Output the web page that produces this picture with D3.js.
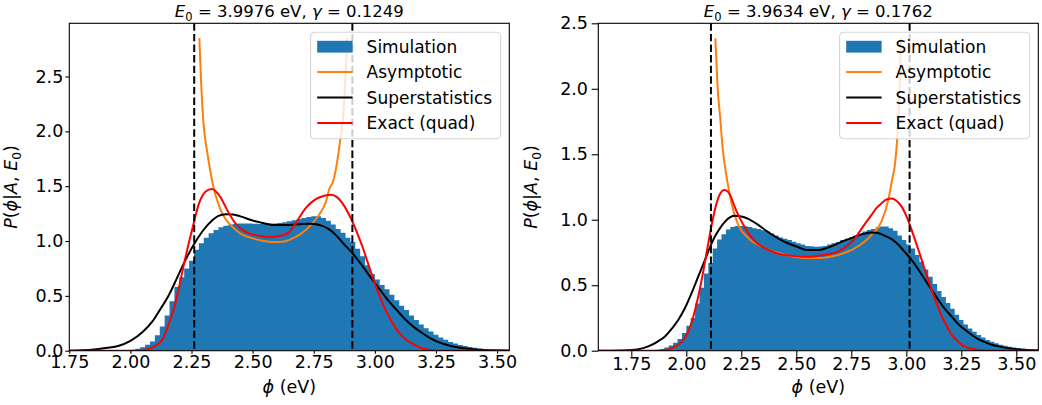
<!DOCTYPE html>
<html>
<head>
<meta charset="utf-8">
<script src="https://cdn.jsdelivr.net/npm/d3@7"></script>
<style>
body { margin: 0; background: #fff; }
svg text { font-family: "DejaVu Sans", sans-serif; fill: #000; }
</style>
</head>
<body>
<svg id="chart" width="1042" height="405"></svg>
<script>
// titles
var e0Values = ['3.9976', '3.9634'];
var gammaValues = ['0.1249', '0.1762'];

var xTicks = [1.75, 2.00, 2.25, 2.50, 2.75, 3.00, 3.25, 3.50];
var yTicks = [0, 0.5, 1.0, 1.5, 2.0, 2.5];
var legendLabels = ['Simulation', 'Asymptotic', 'Superstatistics', 'Exact (quad)'];

// histogram (density), bins of 0.02
var binWidth = 0.02;
var leftHistStart = 1.96;
var leftHist = [
    0.0, 0.003, 0.008, 0.018, 0.032, 0.055, 0.085, 0.14, 0.22, 0.32,
    0.45, 0.58, 0.67, 0.75, 0.82, 0.92, 0.98, 1.03, 1.07, 1.10,
    1.125, 1.14, 1.15, 1.155, 1.16, 1.16, 1.16, 1.158, 1.155, 1.155,
    1.16, 1.16, 1.165, 1.17, 1.18, 1.19, 1.20, 1.21, 1.22, 1.225,
    1.225, 1.21, 1.185, 1.15, 1.11, 1.075, 1.03, 0.99, 0.93, 0.86,
    0.78, 0.70, 0.65, 0.60, 0.56, 0.51, 0.46, 0.41, 0.37, 0.32,
    0.28, 0.24, 0.205, 0.175, 0.145, 0.12, 0.10, 0.08, 0.065, 0.052,
    0.042, 0.033, 0.027, 0.021, 0.016, 0.012, 0.008, 0.005, 0.002
];
var rightHistStart = 1.86;
var rightHist = [
    0.003, 0.012, 0.025, 0.040, 0.060, 0.09, 0.135, 0.19, 0.25, 0.36,
    0.48, 0.59, 0.67, 0.78, 0.85, 0.89, 0.925, 0.945, 0.952, 0.952,
    0.95, 0.945, 0.935, 0.93, 0.92, 0.91, 0.895, 0.88, 0.865, 0.855,
    0.845, 0.832, 0.82, 0.81, 0.80, 0.797, 0.793, 0.795, 0.80, 0.81,
    0.82, 0.83, 0.845, 0.855, 0.867, 0.88, 0.895, 0.91, 0.922, 0.93,
    0.94, 0.948, 0.948, 0.935, 0.915, 0.88, 0.845, 0.81, 0.78, 0.73,
    0.68, 0.62, 0.565, 0.51, 0.455, 0.41, 0.365, 0.32, 0.275, 0.235,
    0.20, 0.17, 0.145, 0.12, 0.10, 0.082, 0.068, 0.056, 0.046, 0.038,
    0.031, 0.025, 0.02, 0.016, 0.012, 0.009, 0.006
];

// curves [phi, P]
var leftAsymptotic = [
    [2.282, 2.85], [2.290, 2.41], [2.298, 2.10], [2.315, 1.80], [2.326, 1.65],
    [2.339, 1.50], [2.355, 1.37], [2.376, 1.25], [2.40, 1.17], [2.431, 1.10],
    [2.46, 1.055], [2.50, 1.025], [2.54, 1.003], [2.58, 0.99], [2.62, 0.993],
    [2.66, 1.02], [2.70, 1.07], [2.74, 1.15], [2.772, 1.24], [2.80, 1.36],
    [2.813, 1.47], [2.830, 1.55], [2.841, 1.66], [2.851, 1.80], [2.860, 1.95],
    [2.869, 2.10], [2.878, 2.41], [2.887, 2.85]
];
var leftSuper = [
    [1.75, 0], [1.80, 0.003], [1.85, 0.01], [1.90, 0.025], [1.953, 0.045],
    [2.00, 0.09], [2.05, 0.17], [2.09, 0.267], [2.12, 0.37], [2.158, 0.51],
    [2.19, 0.66], [2.226, 0.83], [2.26, 0.97], [2.294, 1.087], [2.335, 1.19],
    [2.36, 1.23], [2.39, 1.245], [2.42, 1.242], [2.45, 1.225], [2.50, 1.187],
    [2.55, 1.16], [2.595, 1.145], [2.65, 1.146], [2.70, 1.155], [2.731, 1.157],
    [2.76, 1.152], [2.785, 1.138], [2.81, 1.11], [2.84, 1.056], [2.87, 0.98],
    [2.908, 0.89], [2.95, 0.77], [2.99, 0.647], [3.02, 0.56], [3.058, 0.449],
    [3.09, 0.37], [3.126, 0.282], [3.16, 0.215], [3.194, 0.161], [3.23, 0.11],
    [3.263, 0.076], [3.30, 0.05], [3.331, 0.034], [3.37, 0.02], [3.40, 0.014],
    [3.45, 0.007], [3.50, 0.003], [3.55, 0.001]
];
var leftExact = [
    [1.75, 0], [2.00, 0], [2.05, 0.005], [2.09, 0.03], [2.13, 0.10],
    [2.158, 0.25], [2.18, 0.40], [2.199, 0.58], [2.226, 0.86], [2.253, 1.11],
    [2.281, 1.345], [2.308, 1.451], [2.333, 1.475], [2.362, 1.421], [2.403, 1.254],
    [2.43, 1.16], [2.458, 1.102], [2.49, 1.065], [2.526, 1.047], [2.567, 1.035],
    [2.61, 1.045], [2.649, 1.08], [2.676, 1.163], [2.717, 1.30], [2.772, 1.397],
    [2.82, 1.421], [2.845, 1.40], [2.867, 1.345], [2.89, 1.26], [2.908, 1.178],
    [2.93, 1.06], [2.949, 0.95], [2.97, 0.81], [2.99, 0.677], [3.031, 0.434],
    [3.072, 0.252], [3.112, 0.13], [3.153, 0.064], [3.194, 0.02], [3.24, 0.005],
    [3.30, 0.001], [3.55, 0]
];

var rightAsymptotic = [
    [2.132, 2.385], [2.142, 2.02], [2.155, 1.76], [2.165, 1.55], [2.18, 1.36],
    [2.19, 1.26], [2.206, 1.12], [2.236, 0.96], [2.282, 0.86], [2.358, 0.783],
    [2.449, 0.732], [2.54, 0.707], [2.60, 0.707], [2.691, 0.732], [2.767, 0.783],
    [2.842, 0.885], [2.888, 0.99], [2.918, 1.15], [2.935, 1.30], [2.949, 1.43],
    [2.958, 1.60], [2.965, 1.80], [2.970, 2.02], [2.976, 2.385]
];
var rightSuper = [
    [1.60, 0], [1.70, 0.002], [1.751, 0.005], [1.80, 0.018], [1.827, 0.033],
    [1.87, 0.07], [1.903, 0.109], [1.935, 0.17], [1.964, 0.236], [1.995, 0.33],
    [2.024, 0.44], [2.055, 0.57], [2.085, 0.694], [2.11, 0.80], [2.13, 0.872],
    [2.155, 0.94], [2.176, 0.986], [2.20, 1.02], [2.221, 1.03], [2.245, 1.027],
    [2.267, 1.017], [2.30, 0.99], [2.327, 0.961], [2.36, 0.92], [2.403, 0.872],
    [2.44, 0.837], [2.479, 0.809], [2.51, 0.79], [2.549, 0.768], [2.60, 0.768],
    [2.64, 0.785], [2.676, 0.809], [2.71, 0.835], [2.751, 0.86], [2.80, 0.89],
    [2.842, 0.903], [2.87, 0.898], [2.903, 0.877], [2.935, 0.85], [2.964, 0.809],
    [2.99, 0.76], [3.024, 0.694], [3.055, 0.62], [3.085, 0.542], [3.115, 0.465],
    [3.145, 0.389], [3.175, 0.32], [3.206, 0.262], [3.235, 0.205], [3.267, 0.16],
    [3.30, 0.118], [3.327, 0.089], [3.36, 0.064], [3.388, 0.046], [3.42, 0.033],
    [3.449, 0.023], [3.50, 0.012], [3.55, 0.006], [3.60, 0.003]
];
var rightExact = [
    [1.60, 0], [1.85, 0], [1.903, 0.005], [1.935, 0.02], [1.964, 0.046],
    [1.99, 0.09], [2.009, 0.147], [2.025, 0.22], [2.04, 0.313], [2.055, 0.42],
    [2.07, 0.542], [2.085, 0.68], [2.10, 0.822], [2.123, 1.025], [2.145, 1.165],
    [2.16, 1.215], [2.173, 1.228], [2.185, 1.22], [2.199, 1.19], [2.215, 1.12],
    [2.236, 1.037], [2.26, 0.96], [2.282, 0.898], [2.31, 0.84], [2.342, 0.796],
    [2.38, 0.765], [2.418, 0.74], [2.46, 0.728], [2.509, 0.72], [2.56, 0.718],
    [2.60, 0.725], [2.65, 0.738], [2.691, 0.758], [2.73, 0.80], [2.767, 0.86],
    [2.80, 0.94], [2.842, 1.037], [2.865, 1.09], [2.888, 1.127], [2.91, 1.155],
    [2.933, 1.162], [2.955, 1.145], [2.979, 1.10], [3.00, 1.03], [3.024, 0.923],
    [3.047, 0.81], [3.07, 0.694], [3.092, 0.58], [3.115, 0.465], [3.138, 0.36],
    [3.161, 0.262], [3.185, 0.185], [3.206, 0.122], [3.23, 0.078], [3.251, 0.046],
    [3.275, 0.025], [3.297, 0.015], [3.33, 0.006], [3.40, 0.001], [3.60, 0]
];

// turning points (dashed lines)
var leftBounds = [2.261, 2.908];
var rightBounds = [2.112, 3.015];

var FONT = 16.5;        // titles
var LABEL_FONT = 17.5;  // axis labels
var TICK_FONT = 17.5;
var LEGEND_FONT = 17;

function drawPanel(p) {
    var svg = d3.select('#chart');
    var x = d3.scaleLinear().domain(p.xDomain).range([p.left, p.right]);
    var y = d3.scaleLinear().domain(p.yDomain).range([p.bottom, p.top]);

    svg.append('clipPath').attr('id', 'clip' + p.id)
        .append('rect')
            .attr('x', p.left).attr('y', p.top)
            .attr('width', p.right - p.left).attr('height', p.bottom - p.top);

    var plot = svg.append('g').attr('clip-path', `url(#clip${p.id})`);

    // histogram as one stepped area
    var steps = p.hist.map((d, i) => [p.histStart + i * binWidth, d]);
    steps.push([p.histStart + p.hist.length * binWidth, p.hist[p.hist.length - 1]]);
    plot.append('path')
        .datum(steps)
        .attr('fill', '#1f77b4')
        .attr('d', d3.area()
            .curve(d3.curveStepAfter)
            .x(d => x(d[0]))
            .y0(y(0))
            .y1(d => y(d[1])));

    var line = d3.line().curve(d3.curveMonotoneX).x(d => x(d[0])).y(d => y(d[1]));
    [[p.asym, '#ff7f0e'], [p.sup, '#000000'], [p.exact, '#ff0000']].forEach(c => {
        plot.append('path')
            .datum(c[0])
            .attr('fill', 'none')
            .attr('stroke', c[1])
            .attr('stroke-width', 2)
            .attr('stroke-linejoin', 'round')
            .attr('d', line);
    });

    plot.selectAll('.bound')
        .data(p.bounds)
        .enter()
        .append('line')
            .attr('x1', d => x(d)).attr('x2', d => x(d))
            .attr('y1', p.top).attr('y2', p.bottom)
            .attr('stroke', '#000')
            .attr('stroke-width', 2)
            .attr('stroke-dasharray', '7.4,3.2');

    // axes
    var xAxis = svg.append('g')
        .attr('transform', `translate(0, ${p.bottom})`)
        .call(d3.axisBottom(x).tickValues(xTicks).tickFormat(d3.format('.2f'))
            .tickSize(p.xTickLen).tickPadding(p.xTickPad).tickSizeOuter(0));
    var yAxis = svg.append('g')
        .attr('transform', `translate(${p.left}, 0)`)
        .call(d3.axisLeft(y).tickValues(yTicks).tickFormat(d3.format('.1f'))
            .tickSize(p.yTickLen).tickPadding(p.yTickPad).tickSizeOuter(0));
    [xAxis, yAxis].forEach(a => {
        a.select('.domain').remove();
        a.selectAll('line').attr('stroke', '#000').attr('stroke-width', 1.1);
        a.selectAll('text')
            .style('font-family', '"DejaVu Sans", sans-serif')
            .style('font-size', TICK_FONT + 'px')
            .attr('fill', '#000');
    });

    svg.append('rect')
        .attr('x', p.left).attr('y', p.top)
        .attr('width', p.right - p.left).attr('height', p.bottom - p.top)
        .attr('fill', 'none')
        .attr('stroke', '#000')
        .attr('stroke-width', 1.1);

    // title
    var cx = (p.left + p.right) / 2;
    var t = svg.append('text')
        .attr('x', cx).attr('y', 17)
        .attr('text-anchor', 'middle')
        .style('font-size', FONT + 'px');
    t.append('tspan').style('font-style', 'italic').text('E');
    t.append('tspan').attr('dy', 3.5).style('font-size', (FONT * 0.7) + 'px').text('0');
    t.append('tspan').attr('dy', -3.5).text(` = ${p.e0} eV, `);
    t.append('tspan').style('font-style', 'italic').text('γ');
    t.append('tspan').text(` = ${p.gamma}`);

    // x label
    var xl = svg.append('text')
        .attr('x', cx).attr('y', 393)
        .attr('text-anchor', 'middle')
        .style('font-size', LABEL_FONT + 'px');
    xl.append('tspan').style('font-style', 'italic').text('ϕ');
    xl.append('tspan').text(' (eV)');

    // y label
    var yl = svg.append('text')
        .attr('transform', `translate(${p.yLabelX}, ${(p.top + p.bottom) / 2}) rotate(-90)`)
        .attr('text-anchor', 'middle')
        .style('font-size', LABEL_FONT + 'px');
    yl.append('tspan').style('font-style', 'italic').text('P');
    yl.append('tspan').text('(');
    yl.append('tspan').style('font-style', 'italic').text('ϕ');
    yl.append('tspan').text('|');
    yl.append('tspan').style('font-style', 'italic').text('A');
    yl.append('tspan').text(', ');
    yl.append('tspan').style('font-style', 'italic').text('E');
    yl.append('tspan').attr('dy', 3.5).style('font-size', (LABEL_FONT * 0.7) + 'px').text('0');
    yl.append('tspan').attr('dy', -3.5).text(')');

    // legend
    var lw = 190, lh = 106.5;
    var lx = p.right - 8.7 - lw, ly = p.top + 9;
    var leg = svg.append('g').attr('transform', `translate(${lx}, ${ly})`);
    leg.append('rect')
        .attr('width', lw).attr('height', lh)
        .attr('rx', 4)
        .attr('fill', '#fff').attr('fill-opacity', 0.8)
        .attr('stroke', '#cccccc').attr('stroke-opacity', 0.8)
        .attr('stroke-width', 1.1);
    var rows = leg.selectAll('.entry')
        .data(legendLabels)
        .enter()
        .append('g')
            .attr('transform', (d, i) => `translate(0, ${14.4 + i * 25.4})`);
    var handleColors = ['#1f77b4', '#ff7f0e', '#000000', '#ff0000'];
    rows.each(function(d, i) {
        var r = d3.select(this);
        if (i === 0) {
            r.append('rect').attr('x', 6.6).attr('y', -5.9).attr('width', 35.4).attr('height', 11.8)
                .attr('fill', handleColors[0]);
        } else {
            r.append('line').attr('x1', 6.6).attr('x2', 42).attr('y1', 0).attr('y2', 0)
                .attr('stroke', handleColors[i]).attr('stroke-width', 2);
        }
        r.append('text')
            .attr('x', 56).attr('y', 6.2)
            .style('font-size', LEGEND_FONT + 'px')
            .text(d);
    });
}

drawPanel({
    id: 'L', left: 69.3, right: 509.3, top: 23.3, bottom: 350.7,
    xDomain: [1.75, 3.55], yDomain: [0, 2.985],
    hist: leftHist, histStart: leftHistStart,
    asym: leftAsymptotic, sup: leftSuper, exact: leftExact,
    bounds: leftBounds, e0: e0Values[0], gamma: gammaValues[0],
    xTickLen: 3, xTickPad: 1.5, yTickLen: 4, yTickPad: 2, yLabelX: 17
});
drawPanel({
    id: 'R', left: 598.3, right: 1038.3, top: 23.3, bottom: 350.7,
    xDomain: [1.6, 3.6], yDomain: [0, 2.5],
    hist: rightHist, histStart: rightHistStart,
    asym: rightAsymptotic, sup: rightSuper, exact: rightExact,
    bounds: rightBounds, e0: e0Values[1], gamma: gammaValues[1],
    xTickLen: 6, xTickPad: 1, yTickLen: 6.6, yTickPad: 3.7, yLabelX: 537
});
</script>
</body>
</html>
